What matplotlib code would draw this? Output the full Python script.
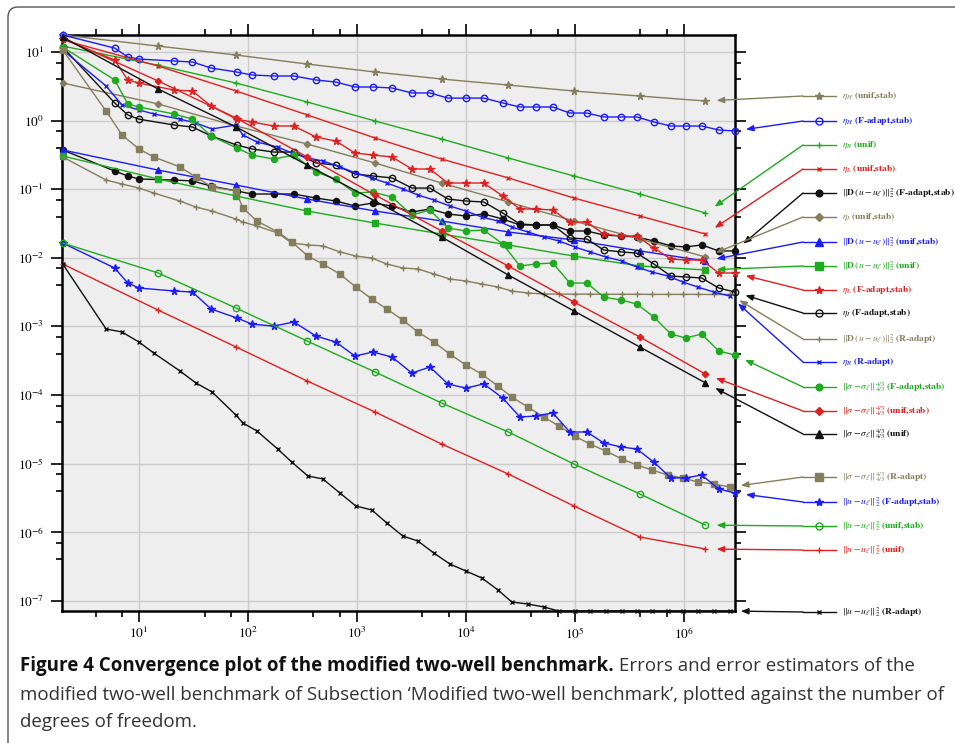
import matplotlib
matplotlib.use("Agg")
import matplotlib.pyplot as plt
from matplotlib.ticker import LogLocator, NullFormatter
from matplotlib.patches import FancyBboxPatch

plt.rcParams["mathtext.fontset"] = "stix"
plt.rcParams["font.family"] = ["STIXGeneral", "DejaVu Serif"]

W, H = 955, 743
OLIVE = "#857e5c"
BLUE = "#1c1cf5"
GREEN = "#1faa1f"
RED = "#dc2222"
BLACK = "#111111"

# degrees of freedom
dof_unif = [2, 15, 78, 350, 1470, 6000, 24500, 98000, 395000, 1580000]
dof_fad = [2, 6, 7.9, 10, 21, 31, 46, 79, 109, 173, 264, 421, 641, 960, 1400, 2100,
           3200, 4680, 6840, 10000, 14600, 21800, 31300, 43800, 62800, 89900, 129000,
           184000, 264000, 371000, 531000, 760000, 1040000, 1460000, 2090000, 2940000]
dof_rad = [2, 5, 7, 10, 13.7, 23.8, 33.3, 46.8, 77.6, 90, 121, 188, 253, 355, 488, 698,
           979, 1370, 1885, 2640, 3630, 5090, 7130, 10000, 14000, 19700, 26400, 37000,
           52000, 71300, 100000, 137000, 192000, 270000, 370000, 509000, 713000, 979000,
           1340000, 1880000, 2640000]

# errors / estimators
eta_H_unif = [17.7, 12.2, 9.04, 6.68, 5.11, 4.04, 3.30, 2.70, 2.28, 1.93]
eta_H_fad = [17.7, 11.4, 8.45, 7.9, 7.39, 7.15, 5.84, 5.11, 4.62, 4.47, 4.47, 3.91, 3.65,
             3.09, 3.09, 2.99, 2.53, 2.53, 2.13, 2.13, 2.13, 1.81, 1.58, 1.58, 1.58, 1.29,
             1.29, 1.13, 1.13, 1.13, 0.955, 0.834, 0.834, 0.834, 0.730, 0.706]
eta_R_unif = [12.2, 6.4, 3.53, 1.87, 0.987, 0.539, 0.285, 0.156, 0.0851, 0.0450]
eta_L_unif = [15.0, 6.25, 2.70, 1.21, 0.558, 0.275, 0.146, 0.0744, 0.0407, 0.0222]
D_fad = [0.373, 0.184, 0.156, 0.141, 0.136, 0.132, 0.111, 0.0942, 0.0851, 0.0851, 0.0851,
         0.0744, 0.0673, 0.0569, 0.0629, 0.0569, 0.0465, 0.0515, 0.0435, 0.0407, 0.0435,
         0.0368, 0.0301, 0.0301, 0.0301, 0.0246, 0.0246, 0.0215, 0.0208, 0.0201, 0.0176,
         0.0149, 0.0144, 0.0154, 0.0126, 0.0126]
eta_I_unif = [3.53, 1.75, 0.834, 0.456, 0.241, 0.123, 0.0651, 0.0344, 0.0188, 0.0103]
D_unif_stab = [0.373, 0.190, 0.115, 0.0719, 0.0481, 0.0344, 0.0238, 0.0182, 0.0126, 0.00898]
D_unif = [0.305, 0.141, 0.0796, 0.0481, 0.0321, 0.0222, 0.0154, 0.0106, 0.00760, 0.00664]
eta_L_fad = [15.5, 7.64, 3.91, 3.53, 2.79, 2.70, 1.63, 1.05, 0.955, 0.834, 0.834, 0.577,
             0.504, 0.337, 0.315, 0.295, 0.197, 0.197, 0.123, 0.123, 0.123, 0.0796, 0.0515,
             0.0515, 0.0497, 0.0332, 0.0332, 0.0222, 0.0208, 0.0208, 0.0139, 0.00961,
             0.00929, 0.00929, 0.00601, 0.00601]
eta_I_fad = [11.8, 1.81, 1.21, 1.05, 0.863, 0.807, 0.597, 0.441, 0.386, 0.348, 0.348, 0.241,
             0.225, 0.167, 0.156, 0.146, 0.104, 0.104, 0.0719, 0.0673, 0.0651, 0.0450,
             0.0311, 0.0301, 0.0301, 0.0194, 0.0188, 0.0130, 0.0122, 0.0117, 0.00812,
             0.00543, 0.00525, 0.00508, 0.00363, 0.00317]
D_rad = [0.295, 0.136, 0.119, 0.104, 0.088, 0.0673, 0.0550, 0.0481, 0.0368, 0.0332, 0.0291,
         0.0230, 0.0164, 0.0154, 0.0149, 0.0122, 0.0106, 0.00993, 0.00812, 0.00710, 0.00687,
         0.00581, 0.00491, 0.00459, 0.00415, 0.00375, 0.00328, 0.00307, 0.00297, 0.00296,
         0.00295, 0.00295, 0.00294, 0.00294, 0.00294, 0.00293, 0.00293, 0.00293, 0.00293,
         0.00292, 0.00292]
eta_R_rad = [10.7, 3.19, 1.69, 1.43, 1.25, 1.05, 0.923, 0.755, 0.863, 0.617, 0.488, 0.412,
             0.337, 0.285, 0.258, 0.211, 0.172, 0.146, 0.123, 0.101, 0.0823, 0.0696, 0.0569,
             0.0481, 0.0393, 0.0344, 0.0281, 0.0238, 0.0201, 0.0176, 0.0144, 0.0122, 0.0103,
             0.00898, 0.00734, 0.00621, 0.00543, 0.00444, 0.00375, 0.00317, 0.00277]
sig_fad = [11.8, 3.91, 1.75, 1.58, 1.25, 1.05, 0.597, 0.399, 0.315, 0.275, 0.315, 0.178,
           0.141, 0.0880, 0.0910, 0.0770, 0.0420, 0.0497, 0.0272, 0.0246, 0.0254, 0.0159,
           0.00760, 0.00812, 0.00840, 0.00429, 0.00429, 0.00268, 0.00243, 0.00212, 0.00137,
           0.000775, 0.000677, 0.000775, 0.000438, 0.000383]
sig_unif_stab = [16.0, 3.78, 1.09, 0.295, 0.0823, 0.0246, 0.00760, 0.00227, 0.000700, 0.000202]
sig_unif = [16.5, 2.89, 0.807, 0.225, 0.0673, 0.0201, 0.00562, 0.00168, 0.000501, 0.000150]
sig_rad = [10.7, 1.38, 0.617, 0.386, 0.295, 0.211, 0.151, 0.108, 0.0942, 0.0532, 0.0344,
           0.0238, 0.0170, 0.0106, 0.00812, 0.00581, 0.00375, 0.00251, 0.00179, 0.00124,
           0.000829, 0.000592, 0.000395, 0.000274, 0.000202, 0.000135, 9.35e-5, 6.68e-5,
           4.78e-5, 3.53e-5, 2.52e-5, 1.93e-5, 1.53e-5, 1.17e-5, 9.54e-6, 8.07e-6, 6.82e-6,
           6.17e-6, 5.40e-6, 5.05e-6, 4.56e-6]
u_fad = [0.0164, 0.00710, 0.00429, 0.00363, 0.00328, 0.00317, 0.00179, 0.00133, 0.00108,
         0.00101, 0.00116, 0.000724, 0.000592, 0.000370, 0.000423, 0.000358, 0.000209,
         0.000256, 0.000145, 0.000126, 0.000145, 9.04e-5, 4.78e-5, 4.94e-5, 5.47e-5,
         2.89e-5, 2.89e-5, 2.00e-5, 1.75e-5, 1.63e-5, 1.05e-5, 6.17e-6, 6.17e-6, 6.82e-6,
         4.26e-6, 3.73e-6]
u_unif_stab = [0.0164, 0.00601, 0.00185, 0.000612, 0.000216, 7.64e-5, 2.89e-5, 9.87e-6,
               3.61e-6, 1.27e-6]
u_unif = [0.00812, 0.00173, 0.000501, 0.000160, 5.65e-5, 1.93e-5, 7.05e-6, 2.41e-6,
          8.51e-7, 5.69e-7]
u_rad = [0.00812, 0.000917, 0.000829, 0.000592, 0.000409, 0.000224, 0.000150, 0.000111,
         5.11e-5, 3.91e-5, 2.99e-5, 1.63e-5, 1.05e-5, 6.60e-6, 5.97e-6, 3.73e-6, 2.41e-6,
         2.11e-6, 1.36e-6, 8.80e-7, 7.44e-7, 4.97e-7, 3.44e-7, 2.72e-7, 2.15e-7, 1.44e-7,
         9.6e-8, 8.97e-8, 8.12e-8, 7.1e-8, 7.1e-8, 7.1e-8, 7.1e-8, 7.1e-8, 7.1e-8, 7.1e-8,
         7.1e-8, 7.1e-8, 7.1e-8, 7.1e-8, 7.1e-8]

Dn = r"$\|\mathbf{D}\,(u-u_\ell)\|_2^2$"
Sn = r"$\|\sigma-\sigma_\ell\|_{4/3}^{4/3}$"
Un = r"$\|u-u_\ell\|_2^2$"

# marker styles: (marker, filled, size)
STAR = ("*", True, 5.5)
OCIRC = ("o", False, 4.6)
PLUS = ("+", True, 4.5)
CROSS = ("x", True, 3.2)
DOT = ("o", True, 4.4)
DIAM = ("D", True, 3.3)
TRI = ("^", True, 4.6)
SQ = ("s", True, 4.8)

# (x, y, color, style, label, legend row y in pixels from top)
series = [
    (dof_unif, eta_H_unif, OLIVE, STAR, r"$\eta_H$ (unif,stab)", 96),
    (dof_fad, eta_H_fad, BLUE, OCIRC, r"$\eta_H$ (F-adapt,stab)", 121),
    (dof_unif, eta_R_unif, GREEN, PLUS, r"$\eta_R$ (unif)", 145),
    (dof_unif, eta_L_unif, RED, CROSS, r"$\eta_L$ (unif,stab)", 169),
    (dof_fad, D_fad, BLACK, DOT, Dn + " (F-adapt,stab)", 193),
    (dof_unif, eta_I_unif, OLIVE, DIAM, r"$\eta_I$ (unif,stab)", 217),
    (dof_unif, D_unif_stab, BLUE, TRI, Dn + " (unif,stab)", 242),
    (dof_unif, D_unif, GREEN, SQ, Dn + " (unif)", 266),
    (dof_fad, eta_L_fad, RED, STAR, r"$\eta_L$ (F-adapt,stab)", 290),
    (dof_fad, eta_I_fad, BLACK, OCIRC, r"$\eta_I$ (F-adapt,stab)", 313),
    (dof_rad, D_rad, OLIVE, PLUS, Dn + " (R-adapt)", 339),
    (dof_rad, eta_R_rad, BLUE, CROSS, r"$\eta_R$ (R-adapt)", 362),
    (dof_fad, sig_fad, GREEN, DOT, Sn + " (F-adapt,stab)", 387),
    (dof_unif, sig_unif_stab, RED, DIAM, Sn + " (unif,stab)", 411),
    (dof_unif, sig_unif, BLACK, TRI, Sn + " (unif)", 434),
    (dof_rad, sig_rad, OLIVE, SQ, Sn + " (R-adapt)", 477),
    (dof_fad, u_fad, BLUE, STAR, Un + " (F-adapt,stab)", 502),
    (dof_unif, u_unif_stab, GREEN, OCIRC, Un + " (unif,stab)", 526),
    (dof_unif, u_unif, RED, PLUS, Un + " (unif)", 550),
    (dof_rad, u_rad, BLACK, CROSS, Un + " (R-adapt)", 612),
]

fig = plt.figure(figsize=(W / 100, H / 100), dpi=100)
ax = fig.add_axes([62 / W, 1 - 611 / H, 673 / W, 576 / H])
ax.set_facecolor("#eeeeee")
ax.set_xscale("log")
ax.set_yscale("log")

for x, y, c, (m, filled, ms), lab, ly in series:
    ax.plot(x, y, color=c, lw=1.0, marker=m, ms=ms, mew=1.0,
            mfc=c if filled else "none", mec=c, clip_on=False, zorder=3)

# grid only on decades
ax.grid(True, which="major", color="#cccccc", lw=1.0, zorder=0)
ax.set_axisbelow(True)

for a in (ax.xaxis, ax.yaxis):
    a.set_minor_locator(LogLocator(base=10, subs=(4.0, 7.0), numticks=20))
    a.set_minor_formatter(NullFormatter())
ax.set_yticks([10.0 ** k for k in range(-7, 2)])
ax.set_xticks([10.0 ** k for k in range(1, 7)])
ax.set_xlim(1.97, 2.95e6)
ax.set_ylim(7.1e-8, 17.7)

ax.tick_params(which="both", direction="out", top=True, right=True, width=1.2,
               colors="black", labelsize=9.5)
ax.tick_params(which="major", length=8)
ax.tick_params(which="minor", length=4.5)
ax.tick_params(axis="x", pad=3)
ax.tick_params(axis="y", pad=5)
for s in ax.spines.values():
    s.set_linewidth(1.8)
    s.set_color("black")

# legend on the right with connectors
ov = fig.add_axes([0, 0, 1, 1], zorder=5)
ov.set_xlim(0, W)
ov.set_ylim(H, 0)
ov.axis("off")

for x, y, c, (m, filled, ms), lab, ly in series:
    ov.plot([803, 836], [ly, ly], color=c, lw=1.0)
    ov.plot([819], [ly], color=c, marker=m, ms=ms * 1.1, mew=1.0,
            mfc=c if filled else "none", mec=c)
    ov.text(842, ly, lab, color=c, fontsize=6.8, fontweight="bold", va="center", ha="left")
    ax.annotate("", xy=(x[-1], y[-1]), xycoords="data",
                xytext=(803, H - ly), textcoords="figure pixels",
                arrowprops=dict(arrowstyle="-|>,head_length=0.45,head_width=0.18",
                                color=c, lw=1.0, shrinkA=0, shrinkB=8,
                                mutation_scale=10),
                annotation_clip=False)

# outer frame of the figure panel
ov.add_patch(FancyBboxPatch((8, 7), 1000, 800, boxstyle="round,pad=0,rounding_size=10",
                            fc="none", ec="#555555", lw=1.0, clip_on=False))

# caption
cap_font = "Open Sans"
line1b = "Figure 4 Convergence plot of the modified two-well benchmark."
line1r = " Errors and error estimators of the"
line2 = ("modified two-well benchmark of Subsection \u2018Modified two-well benchmark\u2019, "
         "plotted against the number of")
line3 = "degrees of freedom."

r = fig.canvas.get_renderer()
t2 = ov.text(20, 695, line2, family=cap_font, fontsize=12, va="center", color="#333333")
w2 = t2.get_window_extent(r).width
fs = 12 * 920 / w2
t2.set_fontsize(fs)
t1 = ov.text(20, 666, line1b, family=cap_font, fontsize=fs, fontweight="bold",
             va="center", color="#111111")
w1 = t1.get_window_extent(r).width
ov.text(20 + w1, 666, line1r, family=cap_font, fontsize=fs, va="center", color="#333333")
ov.text(20, 722, line3, family=cap_font, fontsize=fs, va="center", color="#333333")

fig.savefig("out.png", dpi=100)
